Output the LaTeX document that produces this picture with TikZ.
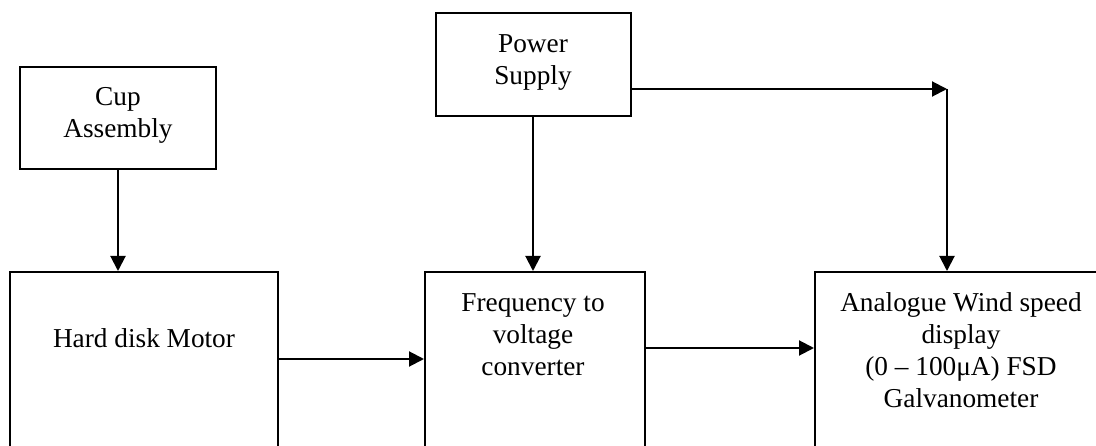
\documentclass[tikz,border=0pt]{standalone}
\usepackage{fontspec}
\setmainfont{Liberation Serif}
\usepackage{tikz}
\usetikzlibrary{calc,arrows.meta}

\begin{document}
\begin{tikzpicture}[x=1pt, y=-1pt, >={Triangle[length=15pt,width=15pt]},
    blk/.style={draw, line width=2pt, inner sep=0pt},
    txt/.style={align=center, inner sep=0pt, font=\fontsize{27.3}{32}\selectfont},
    link/.style={->, line width=2pt}]
  \useasboundingbox (0,0) rectangle (1096,446);
  \begin{scope}
  \clip (0,0) rectangle (1096,446);
  % Blocks
  \node[blk, minimum width=196pt, minimum height=102pt] (cup) at (118,118) {};
  \node[blk, minimum width=195pt, minimum height=103pt] (power) at (533,64.5) {};
  \node[blk, minimum width=268pt, minimum height=248pt] (hdm) at (144,396) {};
  \node[blk, minimum width=220pt, minimum height=248pt] (fvc) at (535,396) {};
  \node[blk, minimum width=300pt, minimum height=248pt] (disp) at (965,396) {};

  % Texts
  \node[txt] (cuptxt) at (118,115.5) {Cup\\Assembly};
  \node[txt] (powertxt) at (533,63) {Power\\Supply};
  \node[txt] (hdmtxt) at (144,338) {Hard disk Motor};
  \node[txt] (fvctxt) at (533,335) {Frequency to\\voltage\\converter};
  \node[txt] (disptxt) at (961,350) {Analogue Wind speed\\display\\(0 -- 100μA) FSD\\Galvanometer};

  % Links
  \coordinate (corner) at (947,89);
  \coordinate (m1) at (0,359);
  \coordinate (m2) at (0,348);
  \draw[link] (cup.south) -- (cup.south |- hdm.north);
  \draw[link] (power.south) -- (power.south |- fvc.north);
  \draw[link] (power.east |- corner) -- (corner);
  \draw[link] (corner) -- (corner |- disp.north);
  \draw[link] (hdm.east |- m1) -- (fvc.west |- m1);
  \draw[link] (fvc.east |- m2) -- (disp.west |- m2);
  \end{scope}
\end{tikzpicture}
\end{document}
